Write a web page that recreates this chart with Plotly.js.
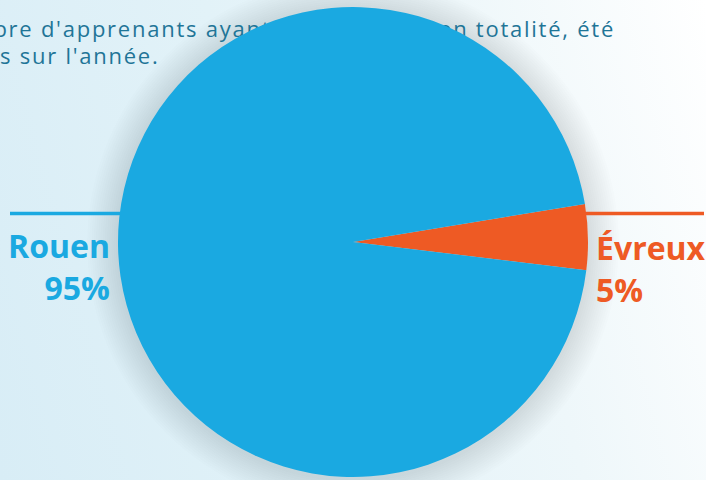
<!DOCTYPE html>
<html><head><meta charset="utf-8">
<script src="https://cdn.plot.ly/plotly-3.0.1.min.js"></script>
<style>
html,body{margin:0;padding:0;width:706px;height:480px;overflow:hidden;
background:linear-gradient(75deg,#d8edf6 0%,#e2f2f8 40%,#eef7fa 70%,#ffffff 100%);}
#chart{width:706px;height:480px;}
#chart .textpoint text{letter-spacing:1.75px;}
</style></head><body><div id="chart"></div>
<script>
// ---- data ----
const labels = ['Évreux', 'Rouen'];
const values = [4.5, 95.5];
const percentLabels = ['5%', '95%'];
const colors = ['#ee5a24', '#1aa9e1'];
const titleLines = ["bre d'apprenants ayant, en partie ou en totalité, été", "s sur l'année."];
const titleX = [615, 0];
const titleY = [31, 58];
const titlePos = ['middle left', 'middle right'];

// ---- geometry (pixels) ----
const W = 706, H = 480;
const cx = 353, cy = 242, R = 235;
const px = x => x / W;
const py = y => 1 - y / H;

const shapes = [];
// soft shadow rings under the pie
for (let i = 14; i >= 1; i--) {
  const r = R + i * 2.2;
  shapes.push({type: 'circle', xref: 'paper', yref: 'paper', layer: 'below',
    x0: px(cx - r), x1: px(cx + r), y0: py(cy + r + 2), y1: py(cy - r + 2),
    fillcolor: 'rgba(50,58,64,0.010)', line: {width: 0}});
}
// leader lines
shapes.push({type: 'line', xref: 'paper', yref: 'paper', layer: 'below',
  x0: px(10), x1: px(135), y0: py(213.5), y1: py(213.5), line: {color: colors[1], width: 3.5}});
shapes.push({type: 'line', xref: 'paper', yref: 'paper', layer: 'below',
  x0: px(570), x1: px(704), y0: py(213.5), y1: py(213.5), line: {color: colors[0], width: 3.5}});

const traces = [
  {type: 'scatter', mode: 'text', x: titleX, y: titleY, text: titleLines,
   textposition: titlePos, cliponaxis: false, hoverinfo: 'skip', showlegend: false,
   textfont: {family: 'Open Sans, sans-serif', size: 22, weight: 400, color: '#1f7597'}},
  {type: 'pie', labels: labels, values: values, sort: false, direction: 'clockwise',
   rotation: 80.7, textinfo: 'none', hoverinfo: 'none', showlegend: false,
   marker: {colors: colors, line: {width: 0}},
   domain: {x: [px(cx - R), px(cx + R)], y: [py(cy + R), py(cy - R)]}}
];

const font = {family: 'Open Sans, sans-serif', size: 32, weight: 700};
const layout = {
  width: W, height: H, margin: {l: 0, r: 0, t: 0, b: 0},
  paper_bgcolor: 'rgba(0,0,0,0)', plot_bgcolor: 'rgba(0,0,0,0)',
  xaxis: {range: [0, W], visible: false, fixedrange: true},
  yaxis: {range: [H, 0], visible: false, fixedrange: true},
  shapes: shapes,
  annotations: [
    {xref: 'paper', yref: 'paper', x: px(112), y: py(266), xanchor: 'right', yanchor: 'middle',
     align: 'right', showarrow: false, text: labels[1] + '<br>' + percentLabels[1],
     font: Object.assign({}, font, {color: colors[1]})},
    {xref: 'paper', yref: 'paper', x: px(594), y: py(268), xanchor: 'left', yanchor: 'middle',
     align: 'left', showarrow: false, text: labels[0] + '<br>' + percentLabels[0],
     font: Object.assign({}, font, {color: colors[0]})}
  ]
};
Plotly.newPlot('chart', traces, layout, {displayModeBar: false, staticPlot: true});
</script></body></html>
